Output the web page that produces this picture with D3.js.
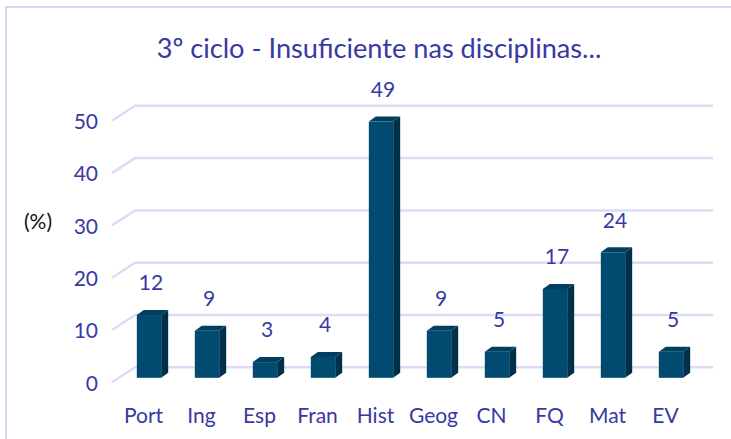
<!DOCTYPE html>
<html>
<head>
<meta charset="utf-8">
<script src="https://cdn.jsdelivr.net/npm/d3@7"></script>
<style>
    body { margin: 0; background: #fff; }
    svg { display: block; }
</style>
</head>
<body>
<script>
    // data
    const disciplinas = ["Port", "Ing", "Esp", "Fran", "Hist", "Geog", "CN", "FQ", "Mat", "EV"];
    const percentagens = [12, 9, 3, 4, 49, 9, 5, 17, 24, 5];
    const yTicks = [0, 10, 20, 30, 40, 50];
    const titulo = "3º ciclo - Insuficiente nas disciplinas...";

    const width = 731, height = 439;
    const textColor = "#3838a4";
    const font = "Lato, 'Open Sans', sans-serif";
    const labelSize = 21;

    const svg = d3.select("body").append("svg")
        .attr("width", width)
        .attr("height", height);

    // outer chart border (right and bottom fall outside the picture)
    svg.append("rect")
        .attr("x", 6).attr("y", 7)
        .attr("width", 760).attr("height", 460)
        .attr("fill", "none")
        .attr("stroke", "#d6d6f2")
        .attr("stroke-width", 2);

    // y scale for the back wall, bars sit a bit in front of it
    const y = d3.scaleLinear().domain([0, 50]).range([367.3, 105.8]);
    const front = 10.5;

    const x = d3.scaleBand()
        .domain(disciplinas)
        .range([120, 700])
        .paddingInner(0.58)
        .paddingOuter(0.29);

    // gridlines: short diagonal on the floor side, then along the wall
    const grid = svg.append("g").attr("class", "grid");
    grid.selectAll("path")
        .data(yTicks)
        .enter().append("path")
        .attr("d", d => `M112,${y(d) + 15}L135,${y(d)}L713,${y(d)}`)
        .attr("fill", "none")
        .attr("stroke", "#dcdcf5")
        .attr("stroke-width", 2.5);

    grid.selectAll("text")
        .data(yTicks)
        .enter().append("text")
        .attr("x", 98)
        .attr("y", d => y(d) + 16)
        .attr("dy", "0.35em")
        .attr("text-anchor", "end")
        .attr("font-family", font)
        .attr("font-size", labelSize)
        .attr("fill", textColor)
        .text(d => d);

    // 3d bars
    const dx = 7, dy = 5;
    const bars = svg.append("g").attr("class", "bars")
        .selectAll("g")
        .data(disciplinas.map((d, i) => ({ name: d, value: percentagens[i] })))
        .enter().append("g");

    bars.each(function(d) {
        const g = d3.select(this);
        const x0 = x(d.name), x1 = x0 + x.bandwidth();
        const yb = y(0) + front, yt = y(d.value) + front;
        // side
        g.append("path")
            .attr("d", `M${x1},${yb}L${x1 + dx},${yb - dy}L${x1 + dx},${yt - dy}L${x1},${yt}Z`)
            .attr("fill", "#00304a");
        // top
        g.append("path")
            .attr("d", `M${x0},${yt}L${x0 + dx},${yt - dy}L${x1 + dx},${yt - dy}L${x1},${yt}Z`)
            .attr("fill", "#003f5f");
        // front
        g.append("rect")
            .attr("x", x0).attr("y", yt)
            .attr("width", x.bandwidth())
            .attr("height", yb - yt)
            .attr("fill", "#004b6f");
    });

    // value labels
    bars.append("text")
        .attr("x", d => x(d.name) + x.bandwidth() / 2 + 2)
        .attr("y", d => y(d.value) + front - 32)
        .attr("dy", "0.35em")
        .attr("text-anchor", "middle")
        .attr("font-family", font)
        .attr("font-size", labelSize)
        .attr("fill", textColor)
        .text(d => d.value);

    // category labels
    svg.append("g").attr("class", "x-labels")
        .selectAll("text")
        .data(disciplinas)
        .enter().append("text")
        .attr("x", d => x(d) + x.bandwidth() / 2 - 5.5)
        .attr("y", 423)
        .attr("text-anchor", "middle")
        .attr("font-family", font)
        .attr("font-size", labelSize)
        .attr("fill", textColor)
        .text(d => d);

    // unit
    svg.append("text")
        .attr("x", 24).attr("y", 229)
        .attr("font-family", font)
        .attr("font-size", labelSize)
        .attr("fill", "#111")
        .text("(%)");

    // title, sized to the width it takes in the original
    const title = svg.append("text")
        .attr("x", 379).attr("y", 58)
        .attr("text-anchor", "middle")
        .attr("font-family", font)
        .attr("font-size", 24)
        .attr("fill", textColor)
        .text(titulo);
    const w = title.node().getComputedTextLength();
    title.attr("font-size", 24 * 445 / w);
</script>
</body>
</html>
